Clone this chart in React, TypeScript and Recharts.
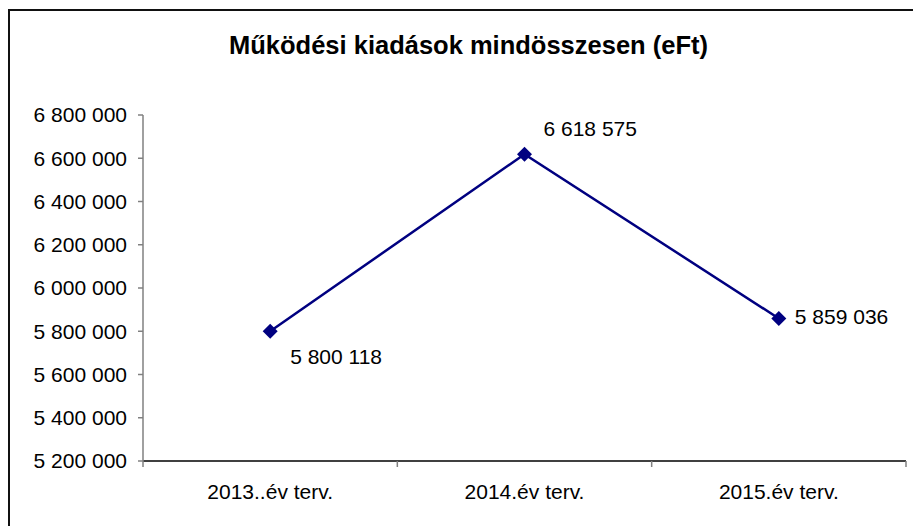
import React from "react";
import { LineChart, Line, XAxis, YAxis, LabelList } from "recharts";

const categories = ["2013..év terv.", "2014.év terv.", "2015.év terv."];
const values = [5800118, 6618575, 5859036];
const yTicks = [5200000, 5400000, 5600000, 5800000, 6000000, 6200000, 6400000, 6600000, 6800000];

// label placement per point (offset from the marker)
const labelOffsets = [
  { dx: 20, dy: 27 },
  { dx: 19, dy: -24 },
  { dx: 16, dy: 0 },
];

const FONT = "'Liberation Sans', Arial, sans-serif";

const fmt = (v: number) => String(v).replace(/\B(?=(\d{3})+(?!\d))/g, " ");

const data = categories.map((name, i) => ({ idx: i, name, value: values[i] }));

const xTicks = [-0.5, 0, 0.5, 1, 1.5, 2, 2.5];

function XTick(props: any) {
  const { x, y, payload } = props;
  const v = payload.value as number;
  if (!Number.isInteger(v)) {
    return <line x1={x} y1={y} x2={x} y2={y + 6} stroke="#808080" strokeWidth={1.5} />;
  }
  return (
    <text x={x} y={y + 32} textAnchor="middle" dominantBaseline="middle" fontSize={21} fontFamily={FONT} fill="#000">
      {categories[v]}
    </text>
  );
}

function Diamond(props: any) {
  const { cx, cy, index } = props;
  const r = 7.5;
  return (
    <polygon
      key={`d-${index}`}
      points={`${cx},${cy - r} ${cx + r},${cy} ${cx},${cy + r} ${cx - r},${cy}`}
      fill="#000080"
    />
  );
}

function ValueLabel(props: any) {
  const { x, y, value, index } = props;
  const o = labelOffsets[index] || { dx: 15, dy: 0 };
  return (
    <text x={x + o.dx} y={y + o.dy} textAnchor="start" dominantBaseline="middle" fontSize={21} fontFamily={FONT} fill="#000">
      {fmt(value)}
    </text>
  );
}

export default function App() {
  return (
    <div style={{ position: "absolute", left: 0, top: 0, width: 913, height: 526, background: "#fff", fontFamily: FONT }}>
      <div
        style={{
          position: "absolute",
          left: 8,
          top: 9,
          width: 905,
          height: 517,
          borderTop: "2px solid #111",
          borderLeft: "2px solid #111",
          boxSizing: "border-box",
        }}
      />
      <div
        style={{
          position: "absolute",
          left: 0,
          width: 937,
          top: 30,
          textAlign: "center",
          fontSize: 25.5,
          fontWeight: "bold",
          lineHeight: "30px",
        }}
      >
        Működési kiadások mindösszesen (eFt)
      </div>
      <div style={{ position: "absolute", left: 0, top: 0 }}>
        <LineChart width={913} height={526} data={data} margin={{ top: 115, right: 7, bottom: 0, left: 0 }}>
          <XAxis
            type="number"
            dataKey="idx"
            domain={[-0.5, 2.5]}
            ticks={xTicks}
            interval={0}
            tickLine={false}
            tickSize={0}
            tickMargin={0}
            height={65}
            axisLine={{ stroke: "#000", strokeWidth: 1.5 }}
            tick={<XTick />}
            allowDataOverflow
          />
          <YAxis
            type="number"
            domain={[5200000, 6800000]}
            ticks={yTicks}
            interval={0}
            width={143}
            tickSize={5}
            tickMargin={11}
            tickFormatter={fmt}
            axisLine={{ stroke: "#808080", strokeWidth: 1.5 }}
            tickLine={{ stroke: "#808080", strokeWidth: 1.5 }}
            tick={{ fill: "#000", fontSize: 21, fontFamily: FONT }}
          />
          <Line
            type="linear"
            dataKey="value"
            stroke="#000080"
            strokeWidth={2.5}
            dot={<Diamond />}
            activeDot={false}
            isAnimationActive={false}
          >
            <LabelList dataKey="value" content={<ValueLabel />} />
          </Line>
        </LineChart>
      </div>
    </div>
  );
}
